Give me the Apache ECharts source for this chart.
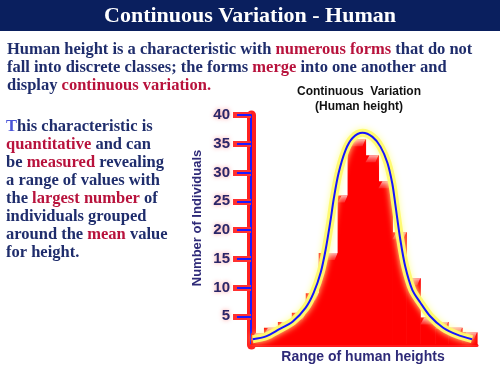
<!DOCTYPE html>
<html><head><meta charset="utf-8">
<script src="https://cdn.jsdelivr.net/npm/echarts@6/dist/echarts.min.js"></script>
<style>html,body{margin:0;padding:0;background:#fff}#c{width:500px;height:375px}</style>
</head><body><div id="c"></div>
<script>
// Histogram bin edges along the height scale (arbitrary units 0..227) and bar heights
const binEdges = [0, 13, 27, 41, 55, 68, 87, 97, 115, 128, 142, 156, 170, 185, 198, 212, 227];
const barValues = [2, 3, 4, 5.6, 9, 16, 26, 35.8, 33, 28.5, 19.6, 11.6, 4.8, 4, 3, 2.2];
// Smooth curve (same height scale, y = number of individuals)
const curveX = [1.7, 15, 28, 42, 55, 63, 70, 75, 80, 83, 88, 95, 102, 112, 122, 130, 137, 142, 145, 150, 155, 162, 170, 180, 193, 207, 222];
const curveY = [1.0, 1.5, 2.7, 4.1, 6.5, 9.1, 12.6, 16.6, 21.8, 25.3, 29.9, 33.9, 36.0, 36.9, 36.2, 34.5, 31.7, 28.0, 24.4, 18.3, 13.6, 9.6, 7.4, 5.0, 3.0, 1.8, 1.0];
const yTicks = [5, 10, 15, 20, 25, 30, 35, 40];

const NAVY = '#1f2d6c', RED = '#b8123c';
const serif = '"Liberation Serif","DejaVu Serif",serif';
const sans = '"Liberation Sans",Arial,sans-serif';

const chart = echarts.init(document.getElementById('c'));
const barData = barValues.map((v, i) => [binEdges[i], binEdges[i + 1], v]);
const curveData = curveX.map((x, i) => [x, curveY[i]]);

chart.setOption({
  animation: false,
  grid: { left: 251, top: 115, width: 226, height: 230 },
  xAxis: {
    type: 'value', min: 0, max: 227,
    axisLine: { show: true, lineStyle: { color: '#ff1a1a', width: 3 } },
    axisTick: { show: false }, axisLabel: { show: false }, splitLine: { show: false }
  },
  yAxis: [{
    type: 'value', min: 0, max: 40, interval: 5, position: 'left',
    axisLine: { show: true, lineStyle: { color: '#ff2020', width: 9 } },
    axisTick: { show: true, length: 18, customValues: yTicks, lineStyle: { color: '#ff3030', width: 6 } },
    axisLabel: { customValues: yTicks, margin: 21, fontFamily: sans, fontWeight: 'bold', fontSize: 15, color: '#2a2668',
      textShadowColor: 'rgba(255,140,140,0.9)', textShadowBlur: 4 },
    splitLine: { show: false }
  }, {
    type: 'value', min: 0, max: 40, interval: 5, position: 'left', offset: 0,
    axisLine: { show: true, lineStyle: { color: '#1a1aff', width: 2 } },
    axisTick: { show: true, length: 14, customValues: yTicks, lineStyle: { color: '#1a1aff', width: 2 } },
    axisLabel: { show: false }, splitLine: { show: false }
  }],
  series: [{
    type: 'custom',
    data: barData,
    encode: { x: [0, 1], y: 2 },
    renderItem: function (params, api) {
      const a = api.value(0), b = api.value(1), v = api.value(2);
      const p0 = api.coord([a, v]), p1 = api.coord([b, 0]);
      const x0 = p0[0], y0 = p0[1], x1 = p1[0], y1 = p1[1];
      return { type: 'group', children: [
        { type: 'rect', shape: { x: x0, y: y0, width: x1 - x0 + 0.6, height: y1 - y0 }, style: { fill: '#ff0000' } },
        { type: 'polygon', shape: { points: [[x0, y0 + 7], [x0 + 4, y0], [x1, y0], [x1 - 3, y0 + 7]] },
          style: { fill: new echarts.graphic.LinearGradient(0, 0, 0, 1, [
            { offset: 0, color: 'rgba(255,190,190,0.95)' }, { offset: 1, color: 'rgba(255,60,60,0.6)' }]) } }
      ] };
    },
    z: 2
  }, {
    type: 'line', data: curveData, smooth: 0.3, symbol: 'none',
    lineStyle: { color: 'rgba(255,250,110,0.95)', width: 8, shadowBlur: 6, shadowColor: 'rgba(255,255,150,1)' },
    z: 3
  }, {
    type: 'line', data: curveData, smooth: 0.3, symbol: 'none',
    lineStyle: { color: '#1414ff', width: 2 },
    z: 4
  }],
  graphic: [
    { type: 'rect', shape: { x: 0, y: 0, width: 500, height: 31 }, style: { fill: '#0a1f5e' } },
    { type: 'text', x: 250, y: 16, style: { text: 'Continuous Variation - Human', fill: '#ffffff',
        font: 'bold 22px ' + serif, align: 'center', verticalAlign: 'middle' } },
    { type: 'text', x: 7, y: 41, style: {
        text: 'Human height is a characteristic with {r|numerous forms} that do not\nfall into discrete classes; the forms {r|merge} into one another and\ndisplay {r|continuous variation.}',
        fill: NAVY, font: 'bold 16.5px ' + serif, lineHeight: 18,
        rich: { r: { fill: RED, font: 'bold 16.5px ' + serif, lineHeight: 18 } } } },
    { type: 'text', x: 6, y: 118, style: {
        text: '{t|T}his characteristic is\n{r|quantitative} and can\nbe {r|measured} revealing\na range of values with\nthe {r|largest number} of\nindividuals grouped\naround the {r|mean} value\nfor height.',
        fill: NAVY, font: 'bold 16.5px ' + serif, lineHeight: 18,
        rich: { r: { fill: RED, font: 'bold 16.5px ' + serif, lineHeight: 18 },
                t: { fill: '#4b55d8', font: 'bold 16.5px ' + serif, lineHeight: 18 } } } },
    { type: 'text', x: 359, y: 99.5, style: { text: 'Continuous  Variation\n(Human height)', fill: '#111',
        font: 'bold 12px ' + sans, align: 'center', verticalAlign: 'middle', lineHeight: 15 } },
    { type: 'text', x: 197, y: 218, rotation: Math.PI / 2, style: { text: 'Number of Individuals', fill: '#2e2a78',
        font: 'bold 13px ' + sans, align: 'center', verticalAlign: 'middle' } },
    { type: 'text', x: 363, y: 357, style: { text: 'Range of human heights', fill: '#2e2a78',
        font: 'bold 14px ' + sans, align: 'center', verticalAlign: 'middle' } }
  ]
});
</script></body></html>
